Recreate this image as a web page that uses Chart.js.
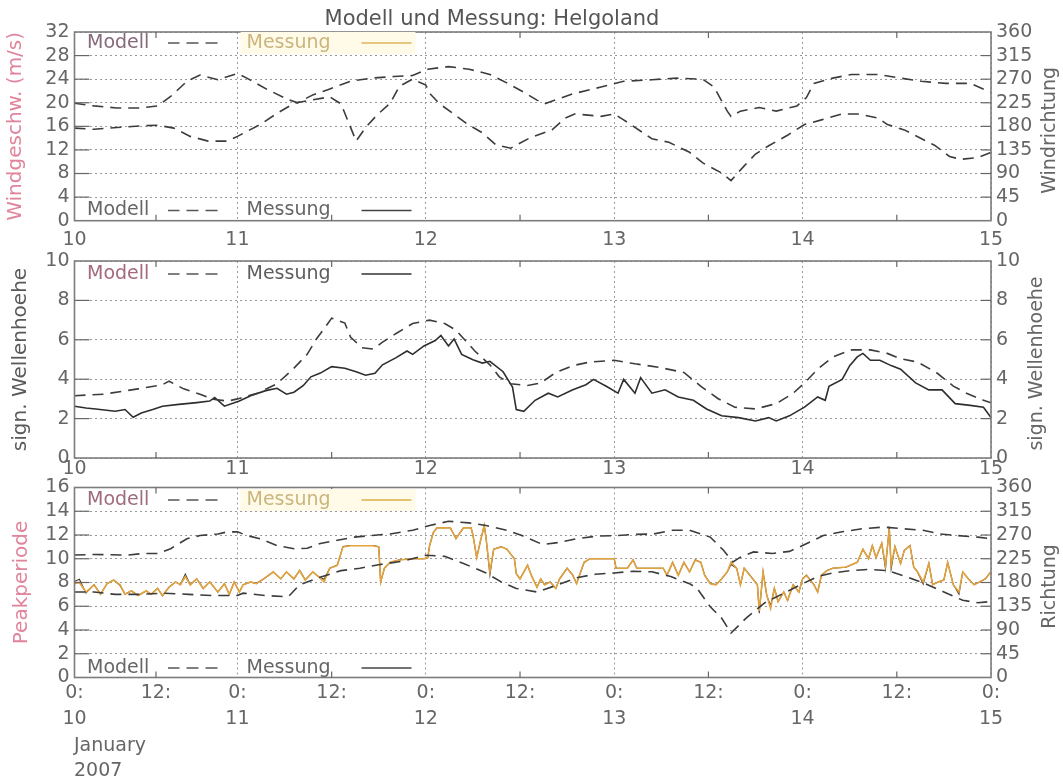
<!DOCTYPE html>
<html>
<head>
<meta charset="utf-8">
<script src="https://cdn.jsdelivr.net/npm/chart.js@4.4.0/dist/chart.umd.min.js"></script>
<style>
  html, body { margin: 0; padding: 0; background: #fff; }
  #wrap { position: relative; width: 1063px; height: 780px; }
  #wrap canvas { position: absolute; left: 0; top: 0; }
</style>
</head>
<body>
<div id="wrap">
  <canvas id="c1" width="1063" height="780"></canvas>
  <canvas id="c2" width="1063" height="780"></canvas>
  <canvas id="c3" width="1063" height="780"></canvas>
</div>
<script>
// ---------- data (time in days of January 2007) ----------
const chartTitle = 'Modell und Messung: Helgoland';
const hourLabels = { 0: '0:', 12: '12:' };
const monthLabel = ['January', '2007'];

// panel 1: wind (model only)
const windSpeedDays = [10.00, 10.12, 10.26, 10.42, 10.51, 10.61, 10.71, 10.82, 10.94, 11.00,
  11.12, 11.21, 11.30, 11.40, 11.49, 11.55, 11.63, 11.68, 11.74, 11.81,
  11.86, 11.93, 12.00, 12.02, 12.07, 12.22, 12.30, 12.37, 12.45, 12.55,
  12.67, 12.74, 12.79, 12.93, 13.00, 13.05, 13.20, 13.29, 13.40, 13.47,
  13.57, 13.62, 13.69, 13.75, 13.82, 13.92, 14.01, 14.10, 14.21, 14.30,
  14.40, 14.45, 14.54, 14.70, 14.78, 14.84, 14.93, 15.00];
const windSpeedModel = [15.7, 15.5, 15.8, 16.1, 16.2, 15.7, 14.3, 13.5, 13.5, 14.3,
  16.3, 18.2, 19.9, 20.5, 21.0, 19.8, 13.5, 15.8, 17.9, 19.9,
  22.8, 24.0, 23.0, 21.6, 19.9, 16.4, 14.9, 12.9, 12.3, 14.0,
  15.4, 17.4, 18.1, 17.7, 18.1, 17.1, 13.9, 13.3, 11.6, 9.8,
  8.1, 6.8, 9.3, 11.3, 12.7, 14.5, 16.3, 17.1, 18.1, 18.1,
  17.4, 16.3, 15.4, 12.8, 10.9, 10.4, 10.7, 11.6];
const windDirDays = [10.00, 10.12, 10.26, 10.40, 10.51, 10.59, 10.69, 10.77, 10.88, 11.00,
  11.05, 11.16, 11.27, 11.32, 11.40, 11.48, 11.60, 11.71, 11.83, 11.93,
  12.01, 12.12, 12.23, 12.34, 12.43, 12.52, 12.59, 12.63, 12.78, 12.93,
  13.05, 13.20, 13.33, 13.47, 13.53, 13.60, 13.62, 13.67, 13.77, 13.86,
  13.97, 14.02, 14.06, 14.16, 14.26, 14.40, 14.52, 14.63, 14.76, 14.89, 15.00];
const windDirModel = [224, 219, 215, 215, 219, 237, 266, 278, 269, 281,
  272, 250, 231, 225, 240, 250, 266, 272, 275, 277,
  289, 294, 289, 279, 263, 245, 230, 223, 242, 255,
  266, 269, 272, 270, 255, 209, 199, 209, 216, 209,
  219, 235, 262, 272, 279, 279, 272, 266, 262, 262, 245];

// panel 2: significant wave height
const waveModelDays = [10.00, 10.18, 10.39, 10.54, 10.58, 10.67, 10.77, 10.85, 10.94, 11.00,
  11.11, 11.21, 11.30, 11.37, 11.42, 11.48, 11.50, 11.57, 11.60, 11.66,
  11.72, 11.77, 11.84, 11.93, 12.02, 12.10, 12.16, 12.21, 12.26, 12.34,
  12.39, 12.45, 12.54, 12.61, 12.69, 12.78, 12.87, 13.00, 13.11, 13.24,
  13.37, 13.46, 13.55, 13.64, 13.75, 13.86, 13.95, 14.01, 14.08, 14.16,
  14.26, 14.36, 14.45, 14.52, 14.61, 14.71, 14.80, 14.87, 14.96, 15.00];
const waveHeightModel = [3.16, 3.24, 3.51, 3.72, 3.90, 3.51, 3.24, 2.98, 2.89, 3.00,
  3.30, 3.77, 4.56, 5.26, 6.05, 6.83, 7.10, 6.85, 6.14, 5.60,
  5.53, 5.88, 6.31, 6.83, 7.00, 6.83, 6.49, 5.96, 5.43, 4.73,
  4.12, 3.77, 3.68, 3.81, 4.34, 4.69, 4.87, 4.96, 4.78, 4.60,
  4.34, 3.64, 3.02, 2.58, 2.49, 2.76, 3.29, 3.81, 4.51, 5.13,
  5.49, 5.49, 5.31, 5.04, 4.87, 4.34, 3.65, 3.29, 2.93, 2.80];
const waveMeasDays = [10.00, 10.07, 10.13, 10.25, 10.31, 10.36, 10.41, 10.48, 10.54, 10.64,
  10.75, 10.83, 10.86, 10.92, 11.01, 11.07, 11.15, 11.21, 11.26, 11.30,
  11.35, 11.39, 11.44, 11.50, 11.57, 11.63, 11.68, 11.73, 11.77, 11.84,
  11.90, 11.93, 11.99, 12.05, 12.08, 12.12, 12.15, 12.19, 12.25, 12.30,
  12.34, 12.41, 12.46, 12.48, 12.52, 12.58, 12.65, 12.70, 12.78, 12.85,
  12.89, 12.96, 13.02, 13.05, 13.11, 13.14, 13.20, 13.27, 13.34, 13.42,
  13.49, 13.57, 13.66, 13.75, 13.82, 13.86, 13.93, 14.01, 14.08, 14.12,
  14.14, 14.21, 14.25, 14.29, 14.32, 14.36, 14.41, 14.47, 14.52, 14.60,
  14.67, 14.74, 14.81, 14.89, 14.96, 15.00];
const waveHeightMeas = [2.63, 2.54, 2.49, 2.37, 2.46, 2.07, 2.28, 2.46, 2.63, 2.72,
  2.81, 2.89, 3.07, 2.63, 2.89, 3.16, 3.42, 3.54, 3.24, 3.34,
  3.68, 4.12, 4.31, 4.64, 4.56, 4.38, 4.20, 4.30, 4.73, 5.08,
  5.43, 5.26, 5.69, 5.96, 6.22, 5.69, 6.04, 5.26, 4.99, 4.82,
  4.91, 4.38, 3.60, 2.46, 2.37, 2.93, 3.29, 3.10, 3.46, 3.72,
  3.99, 3.63, 3.29, 3.99, 3.29, 4.08, 3.29, 3.46, 3.10, 2.93,
  2.49, 2.14, 2.05, 1.88, 2.05, 1.88, 2.14, 2.58, 3.10, 2.93,
  3.64, 3.99, 4.69, 5.13, 5.31, 4.96, 4.96, 4.69, 4.51, 3.81,
  3.46, 3.46, 2.76, 2.67, 2.58, 2.05];

// panel 3: peak period and wave direction
const periodModelDays = [10.00, 10.12, 10.25, 10.40, 10.55, 10.70, 10.85, 11.00, 11.03, 11.15,
  11.27, 11.33, 11.43, 11.55, 11.65, 11.75, 11.88, 12.00, 12.10, 12.20,
  12.32, 12.40, 12.48, 12.59, 12.70, 12.80, 12.90, 13.00, 13.10, 13.20,
  13.30, 13.40, 13.44, 13.51, 13.57, 13.62, 13.70, 13.80, 13.90, 14.00,
  14.08, 14.16, 14.25, 14.35, 14.45, 14.55, 14.65, 14.75, 14.85, 14.93, 15.00];
const periodModel = [7.2, 7.2, 7.0, 7.0, 7.1, 7.0, 6.9, 6.9, 7.1, 6.9,
  6.8, 7.8, 8.4, 9.0, 9.2, 9.5, 9.8, 10.3, 10.2, 9.6,
  8.8, 8.05, 7.5, 7.2, 7.8, 8.4, 8.7, 8.8, 8.95, 8.9,
  8.5, 7.9, 7.5, 5.95, 5.0, 3.74, 5.0, 6.3, 7.1, 7.9,
  8.5, 8.8, 9.0, 9.1, 9.0, 8.5, 7.9, 7.2, 6.5, 6.3, 6.4];
const waveDirModelDays = [10.00, 10.12, 10.33, 10.42, 10.51, 10.59, 10.69, 10.77, 10.88, 10.94,
  11.00, 11.05, 11.12, 11.21, 11.30, 11.37, 11.44, 11.53, 11.62, 11.71,
  11.81, 11.93, 12.02, 12.12, 12.23, 12.32, 12.43, 12.51, 12.62, 12.71,
  12.80, 12.91, 13.02, 13.10, 13.21, 13.31, 13.40, 13.51, 13.58, 13.63,
  13.67, 13.74, 13.84, 13.93, 14.00, 14.11, 14.21, 14.32, 14.43, 14.53,
  14.64, 14.73, 14.82, 14.93, 15.00];
const waveDirModel = [232, 233, 232, 235, 235, 244, 263, 269, 272, 276,
  276, 269, 263, 250, 244, 245, 254, 260, 266, 269,
  272, 279, 288, 296, 293, 288, 279, 269, 252, 256,
  263, 268, 269, 271, 272, 279, 279, 266, 241, 219,
  228, 238, 235, 239, 250, 269, 276, 282, 285, 282,
  279, 272, 269, 266, 263];
const periodMeasDays = [10.00, 10.03, 10.07, 10.12, 10.16, 10.20, 10.24, 10.28, 10.31, 10.35,
  10.39, 10.44, 10.47, 10.51, 10.54, 10.58, 10.62, 10.65, 10.68, 10.71,
  10.75, 10.79, 10.83, 10.88, 10.92, 10.95, 10.98, 11.01, 11.03, 11.07,
  11.10, 11.14, 11.19, 11.23, 11.26, 11.30, 11.33, 11.36, 11.40, 11.43,
  11.46, 11.49, 11.53, 11.56, 11.60, 11.65, 11.72, 11.75, 11.76, 11.78,
  11.81, 11.86, 11.93, 11.99, 12.01, 12.02, 12.04, 12.06, 12.13, 12.16,
  12.20, 12.24, 12.25, 12.27, 12.29, 12.31, 12.32, 12.34, 12.36, 12.40,
  12.43, 12.47, 12.48, 12.50, 12.54, 12.56, 12.59, 12.61, 12.63, 12.66,
  12.69, 12.71, 12.75, 12.78, 12.80, 12.84, 12.87, 13.00, 13.01, 13.07,
  13.10, 13.12, 13.26, 13.28, 13.31, 13.34, 13.37, 13.40, 13.43, 13.46,
  13.48, 13.51, 13.54, 13.57, 13.60, 13.62, 13.65, 13.67, 13.69, 13.72,
  13.76, 13.77, 13.79, 13.81, 13.83, 13.85, 13.87, 13.90, 13.92, 13.95,
  13.98, 14.00, 14.02, 14.06, 14.08, 14.10, 14.13, 14.16, 14.23, 14.29,
  14.32, 14.35, 14.37, 14.39, 14.42, 14.44, 14.46, 14.47, 14.49, 14.52,
  14.54, 14.57, 14.59, 14.61, 14.64, 14.67, 14.69, 14.72, 14.75, 14.77,
  14.80, 14.83, 14.85, 14.88, 14.91, 14.94, 14.97, 15.00];
const periodMeas = [7.9, 8.0, 7.2, 7.8, 7.0, 7.9, 8.2, 7.8, 7.0, 7.3,
  6.9, 7.3, 7.0, 7.5, 6.9, 7.6, 8.05, 7.8, 8.5, 7.8,
  8.3, 7.5, 8.05, 7.2, 7.9, 7.0, 8.05, 7.2, 7.8, 8.05,
  7.9, 8.3, 8.9, 8.3, 8.9, 8.3, 9.0, 8.2, 8.9, 8.5,
  8.05, 9.2, 9.45, 11.0, 11.1, 11.1, 11.1, 11.0, 8.05, 9.2,
  9.7, 9.9, 10.0, 10.0, 10.1, 11.1, 12.2, 12.6, 12.6, 11.7,
  12.6, 12.6, 12.0, 10.1, 11.5, 12.8, 11.7, 8.9, 10.8, 11.0,
  10.8, 10.0, 8.75, 8.3, 9.45, 8.6, 7.6, 8.3, 7.8, 8.05,
  7.5, 8.3, 9.2, 8.6, 7.9, 9.7, 10.0, 10.0, 9.2, 9.2,
  9.9, 9.2, 9.2, 8.6, 9.7, 8.6, 9.7, 8.9, 9.9, 9.7,
  8.6, 7.9, 7.8, 8.3, 8.9, 9.7, 9.2, 7.8, 9.2, 8.6,
  7.8, 5.6, 8.9, 6.9, 5.8, 7.5, 6.4, 7.2, 6.5, 7.8,
  7.2, 8.3, 8.6, 7.8, 7.2, 8.6, 9.0, 9.2, 9.3, 9.7,
  10.8, 10.0, 11.1, 10.1, 11.3, 9.45, 12.5, 9.45, 11.0, 9.6,
  10.7, 11.1, 9.3, 8.9, 8.05, 9.6, 7.8, 8.05, 8.2, 9.7,
  7.8, 7.2, 8.9, 8.3, 7.8, 8.05, 8.3, 8.9];
const waveDirMeas = [182, 186, 160, 176, 158, 178, 185, 174, 158, 164,
  155, 164, 158, 169, 155, 171, 181, 176, 196, 176,
  187, 169, 181, 162, 178, 158, 181, 162, 176, 181,
  178, 187, 200, 187, 200, 187, 203, 185, 200, 191,
  186, 207, 213, 248, 250, 250, 250, 248, 181, 207,
  218, 223, 225, 225, 227, 250, 275, 284, 284, 263,
  284, 284, 270, 227, 259, 288, 263, 194, 243, 248,
  243, 225, 197, 187, 213, 194, 171, 187, 176, 181,
  169, 187, 207, 194, 178, 218, 225, 225, 207, 207,
  223, 207, 207, 194, 218, 194, 218, 200, 223, 218,
  194, 178, 176, 187, 200, 214, 207, 176, 207, 194,
  176, 122, 200, 155, 136, 169, 144, 162, 146, 176,
  162, 187, 194, 176, 162, 194, 203, 207, 209, 218,
  243, 225, 250, 227, 254, 206, 286, 206, 248, 216,
  241, 250, 209, 200, 177, 216, 176, 181, 185, 218,
  176, 158, 200, 187, 176, 181, 187, 200];

// ---------- look ----------
const FONT = "'DejaVu Sans', 'Liberation Sans', sans-serif";
const INK = '#666';
const GRID = '#9a9a9a';
const PINK = '#e0849c';
const MODEL_DASH = [11, 7];

// The time axis in the picture is not uniform: the first day is drawn narrower.
const axisDays = [10, 11, 15];
const axisFrac = [0, 0.1778, 1];

function dayToFrac(v) {
  for (let i = 1; i < axisDays.length; i++) {
    if (v <= axisDays[i] || i === axisDays.length - 1) {
      const t = (v - axisDays[i - 1]) / (axisDays[i] - axisDays[i - 1]);
      return axisFrac[i - 1] + t * (axisFrac[i] - axisFrac[i - 1]);
    }
  }
}
function fracToDay(f) {
  for (let i = 1; i < axisFrac.length; i++) {
    if (f <= axisFrac[i] || i === axisFrac.length - 1) {
      const t = (f - axisFrac[i - 1]) / (axisFrac[i] - axisFrac[i - 1]);
      return axisDays[i - 1] + t * (axisDays[i] - axisDays[i - 1]);
    }
  }
}

class DayScale extends Chart.LinearScale {
  static id = 'dayscale';
  static defaults = Chart.LinearScale.defaults;
  getPixelForValue(value) {
    return this.getPixelForDecimal(dayToFrac(value));
  }
  getValueForPixel(pixel) {
    return fracToDay(this.getDecimalForPixel(pixel));
  }
}
Chart.register(DayScale);

function pts(days, vals) {
  return days.map((d, i) => ({ x: d, y: vals[i] }));
}
function modelLine(days, vals, axis) {
  return { data: pts(days, vals), yAxisID: axis, borderColor: '#3c3c3c', borderWidth: 1.6,
    borderDash: MODEL_DASH, pointRadius: 0, tension: 0, fill: false };
}
function measLine(days, vals, axis, color, width) {
  return { data: pts(days, vals), yAxisID: axis, borderColor: color, borderWidth: width,
    pointRadius: 0, tension: 0, fill: false };
}

function vText(ctx, text, x, y, color, size) {
  ctx.save();
  ctx.translate(x, y);
  ctx.rotate(-Math.PI / 2);
  ctx.fillStyle = color;
  ctx.font = size + 'px ' + FONT;
  ctx.textAlign = 'center';
  ctx.textBaseline = 'middle';
  ctx.fillText(text, 0, 0);
  ctx.restore();
}

function seg(ctx, x1, y1, x2, y2) {
  ctx.beginPath();
  ctx.moveTo(x1, y1);
  ctx.lineTo(x2, y2);
  ctx.stroke();
}

function drawLegendRow(ctx, a, row) {
  const L = a.left;
  if (row.highlight) {
    ctx.fillStyle = '#fffbe8';
    ctx.fillRect(L + 166, row.y - 11, 175, 22);
  }
  ctx.font = '19px ' + FONT;
  ctx.textAlign = 'left';
  ctx.textBaseline = 'middle';
  ctx.fillStyle = row.c1;
  ctx.fillText('Modell', L + 12.5, row.y);
  ctx.strokeStyle = '#555';
  ctx.lineWidth = 1.5;
  [[93.5, 105], [112, 124], [131, 143]].forEach(d => seg(ctx, L + d[0], row.y, L + d[1], row.y));
  ctx.fillStyle = row.c2;
  ctx.fillText('Messung', L + 172, row.y);
  ctx.strokeStyle = row.line;
  seg(ctx, L + 287, row.y, L + 337, row.y);
}

function decoPlugin(p) {
  return {
    id: 'deco',
    afterDraw(chart) {
      const { ctx, chartArea: a, scales } = chart;
      ctx.save();
      // frame
      ctx.strokeStyle = '#7c7c7c';
      ctx.lineWidth = 1.6;
      ctx.strokeRect(a.left, a.top, a.right - a.left, a.bottom - a.top);
      // short inward ticks
      ctx.strokeStyle = '#666';
      ctx.lineWidth = 1.2;
      scales.yL.ticks.forEach(t => {
        if (t.value === scales.yL.min || t.value === scales.yL.max) return;
        const y = scales.yL.getPixelForValue(t.value);
        seg(ctx, a.left, y, a.left + 15, y);
        seg(ctx, a.right - 10, y, a.right, y);
      });
      for (let d = 10.5; d < 15; d += 1) {
        const x = scales.x.getPixelForValue(d);
        seg(ctx, x, a.bottom, x, a.bottom - 6);
        seg(ctx, x, a.top, x, a.top + 6);
      }
      // axis titles
      const mid = (a.top + a.bottom) / 2;
      vText(ctx, p.leftTitle[0], p.leftTitle[1], mid, p.leftTitle[2], 20);
      vText(ctx, p.rightTitle[0], p.rightTitle[1], mid + 4, '#666', 19);
      // legends inside the box
      p.legends.forEach(row => drawLegendRow(ctx, a, row));
      if (p.extra) p.extra(ctx, a);
      ctx.restore();
    }
  };
}

function makePanel(p) {
  const tickFont = { family: FONT, size: 19, lineHeight: p.xLine };
  return new Chart(document.getElementById(p.id), {
    type: 'line',
    data: { datasets: p.datasets },
    options: {
      responsive: false,
      animation: false,
      devicePixelRatio: 1,
      layout: { padding: { top: p.top, left: 0, right: 0, bottom: 0 } },
      plugins: { legend: { display: false }, tooltip: { enabled: false }, title: { display: false } },
      scales: {
        x: {
          type: 'dayscale', position: 'bottom', min: 10, max: 15,
          afterFit: s => { s.height = 780 - p.bottom; },
          grid: { color: c => (c.tick && Number.isInteger(c.tick.value)) ? GRID : 'rgba(0,0,0,0)', drawTicks: false, lineWidth: 1 },
          border: { display: false, dash: [2, 3] },
          ticks: { stepSize: p.xStep, autoSkip: false, maxRotation: 0, color: INK, font: tickFont,
            padding: p.xPad, callback: p.xLabel }
        },
        yL: {
          position: 'left', min: p.yL[0], max: p.yL[1],
          afterFit: s => { s.width = 74.5; },
          grid: { color: GRID, drawTicks: false, lineWidth: 1 },
          border: { display: false, dash: [2, 3] },
          ticks: { stepSize: p.yL[2], autoSkip: false, color: INK, font: { family: FONT, size: 19 }, padding: 5 }
        },
        yR: {
          position: 'right', min: p.yR[0], max: p.yR[1],
          afterFit: s => { s.width = 72; },
          grid: { drawOnChartArea: false, drawTicks: false },
          border: { display: false },
          ticks: { stepSize: p.yR[2], autoSkip: false, color: INK, font: { family: FONT, size: 19 }, padding: 5 }
        }
      }
    },
    plugins: [decoPlugin(p)]
  });
}

// ---------- panel 1: wind ----------
makePanel({
  id: 'c1', top: 32, bottom: 220.7, yL: [0, 32, 4], yR: [0, 360, 45],
  xStep: 1, xPad: 7.6, xLine: 1.2, xLabel: v => String(v),
  leftTitle: ['Windgeschw. (m/s)', 16, PINK], rightTitle: ['Windrichtung', 1050],
  legends: [
    { y: 43, c1: '#86697a', c2: '#cbb57e', line: '#dcb65c', highlight: true },
    { y: 210.5, c1: '#666', c2: '#666', line: '#444' }
  ],
  datasets: [
    modelLine(windSpeedDays, windSpeedModel, 'yL'),
    modelLine(windDirDays, windDirModel, 'yR')
  ],
  extra: (ctx) => {
    ctx.font = '21px ' + FONT;
    ctx.fillStyle = '#555';
    ctx.textAlign = 'center';
    ctx.textBaseline = 'middle';
    ctx.fillText(chartTitle, 492, 20);
  }
});

// ---------- panel 2: wave height ----------
makePanel({
  id: 'c2', top: 261, bottom: 458, yL: [0, 10, 2], yR: [0, 10, 2],
  xStep: 1, xPad: 0, xLine: 1.2, xLabel: v => String(v),
  leftTitle: ['sign. Wellenhoehe', 21, '#5a5a5a'], rightTitle: ['sign. Wellenhoehe', 1037],
  legends: [
    { y: 274, c1: '#a2697f', c2: '#5e5e5e', line: '#333' }
  ],
  datasets: [
    modelLine(waveModelDays, waveHeightModel, 'yL'),
    measLine(waveMeasDays, waveHeightMeas, 'yL', '#2e2e2e', 1.6)
  ]
});

// ---------- panel 3: peak period and direction ----------
makePanel({
  id: 'c3', top: 487.5, bottom: 677.5, yL: [0, 16, 2], yR: [0, 360, 45],
  xStep: 0.5, xPad: 2.5, xLine: 1.37,
  xLabel: v => (v % 1 === 0) ? [hourLabels[0], String(v)] : [hourLabels[12], ''],
  leftTitle: ['Peakperiode', 22, PINK], rightTitle: ['Richtung', 1050],
  legends: [
    { y: 500, c1: '#a06a7e', c2: '#cbb57e', line: '#dcb04c', highlight: true },
    { y: 668, c1: '#666', c2: '#666', line: '#444' }
  ],
  datasets: [
    modelLine(periodModelDays, periodModel, 'yL'),
    modelLine(waveDirModelDays, waveDirModel, 'yR'),
    measLine(periodMeasDays, periodMeas, 'yL', '#e2a23c', 1.6),
    measLine(periodMeasDays, waveDirMeas, 'yR', '#4a4038', 1.1)
  ],
  extra: (ctx) => {
    ctx.font = '19px ' + FONT;
    ctx.fillStyle = INK;
    ctx.textAlign = 'left';
    ctx.textBaseline = 'middle';
    ctx.fillText(monthLabel[0], 74, 746);
    ctx.fillText(monthLabel[1], 74, 771);
  }
});
</script>
</body>
</html>
